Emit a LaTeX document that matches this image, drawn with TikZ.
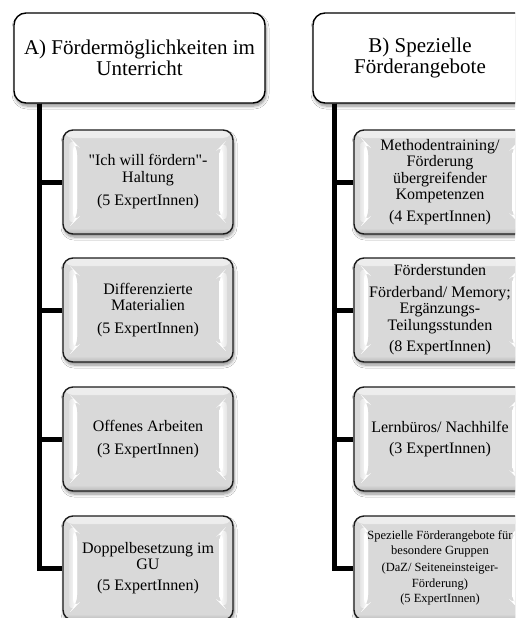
\documentclass[tikz,border=0pt]{standalone}
\usepackage{fontspec}
\setmainfont{Liberation Serif}[Ligatures=TeXOff]
\usetikzlibrary{shadows.blur}

\definecolor{boxgray}{RGB}{217,217,217}
\definecolor{boxedge}{RGB}{28,28,28}

\tikzset{
  softshadow/.style={blur shadow={shadow xshift=1pt, shadow yshift=-3pt,
      shadow blur radius=3pt, shadow blur steps=6, shadow opacity=45}},
  headbox/.style={draw=black, line width=1.4pt, rounded corners=12pt, fill=white,
      minimum width=251pt, minimum height=90pt, align=center, inner sep=2pt,
      font=\fontsize{21}{21}\selectfont, softshadow},
  % raised grey box with bevel highlights on the sides
  itembox/.style={draw=boxedge, line width=1.4pt, rounded corners=10pt, fill=boxgray,
      minimum width=170pt, minimum height=104pt, align=center, inner sep=2pt,
      font=\fontsize{16}{16.5}\selectfont, softshadow,
      path picture={
        \shade[top color=white!55!boxgray, bottom color=boxgray]
          (path picture bounding box.north west) rectangle
          ([yshift=-8pt]path picture bounding box.north east);
        \shade[top color=boxgray, bottom color=boxgray!85!black]
          ([yshift=6pt]path picture bounding box.south west) rectangle
          (path picture bounding box.south east);
        % left bevel
        \shade[left color=boxgray!70!white, right color=white]
          ([shift={(6pt,-7pt)}]path picture bounding box.north west) --
          ([shift={(14pt,-15pt)}]path picture bounding box.north west) --
          ([shift={(14pt,15pt)}]path picture bounding box.south west) --
          ([shift={(6pt,7pt)}]path picture bounding box.south west) -- cycle;
        \fill[white]
          ([shift={(10pt,-11pt)}]path picture bounding box.north west) --
          ([shift={(14pt,-15pt)}]path picture bounding box.north west) --
          ([shift={(14pt,15pt)}]path picture bounding box.south west) --
          ([shift={(10pt,11pt)}]path picture bounding box.south west) -- cycle;
        % right bevel
        \shade[left color=white, right color=boxgray!70!white]
          ([shift={(-14pt,-18pt)}]path picture bounding box.north east) --
          ([shift={(-6pt,-10pt)}]path picture bounding box.north east) --
          ([shift={(-6pt,10pt)}]path picture bounding box.south east) --
          ([shift={(-14pt,18pt)}]path picture bounding box.south east) -- cycle;
        \fill[white]
          ([shift={(-14pt,-18pt)}]path picture bounding box.north east) --
          ([shift={(-10pt,-14pt)}]path picture bounding box.north east) --
          ([shift={(-10pt,14pt)}]path picture bounding box.south east) --
          ([shift={(-14pt,18pt)}]path picture bounding box.south east) -- cycle;
      }},
  itemA/.style={itembox},
  itemB/.style={itembox, minimum width=172pt},
  conn/.style={draw=black, line width=5pt}
}

\begin{document}
\begin{tikzpicture}[x=1pt, y=-1pt]
  \clip (0,0) rectangle (515,618);
  \fill[white] (0,0) rectangle (515,618);

  % column headings
  \node[headbox] (hA) at (139.5,58) {A) Fördermöglichkeiten im\\Unterricht};
  \node[headbox, minimum width=214pt] (hB) at (420,58) {B) Spezielle\\Förderangebote};

  % trunk positions below the headings
  \coordinate (tA) at ([xshift=26pt]hA.south west);
  \coordinate (tB) at ([xshift=22pt]hB.south west);

  % column A
  \node[itemA] (a1) at (148,182) {"Ich will fördern"-\\Haltung\\[7pt](5 ExpertInnen)};
  \node[itemA] (a2) at (148,310) {Differenzierte\\Materialien\\[6pt](5 ExpertInnen)};
  \node[itemA] (a3) at (148,439) {Offenes Arbeiten\\[6pt](3 ExpertInnen)};
  \node[itemA] (a4) at (148,568) {Doppelbesetzung im\\GU\\[4pt](5 ExpertInnen)};

  % column B
  \node[itemB] (b1) at (440,182) {Methodentraining/\\Förderung\\übergreifender\\Kompetenzen\\[5pt](4 ExpertInnen)};
  \node[itemB] (b2) at (440,310) {Förderstunden\\[5pt]Förderband/ Memory;\\Ergänzungs-\\Teilungsstunden\\[5pt](8 ExpertInnen)};
  \node[itemB] (b3) at (440,439) {Lernbüros/ Nachhilfe\\[5pt](3 ExpertInnen)};
  \node[itemB, font=\fontsize{12.5}{15}\selectfont] (b4) at (440,568)
    {Spezielle Förderangebote für\\besondere Gruppen\\[2pt](DaZ/ Seiteneinsteiger-\\[1pt]Förderung)\\(5 ExpertInnen)};

  % connectors
  \foreach \c in {a1,a2,a3,a4} \draw[conn] (tA) |- (\c.west);
  \foreach \c in {b1,b2,b3,b4} \draw[conn] (tB) |- (\c.west);
\end{tikzpicture}
\end{document}
